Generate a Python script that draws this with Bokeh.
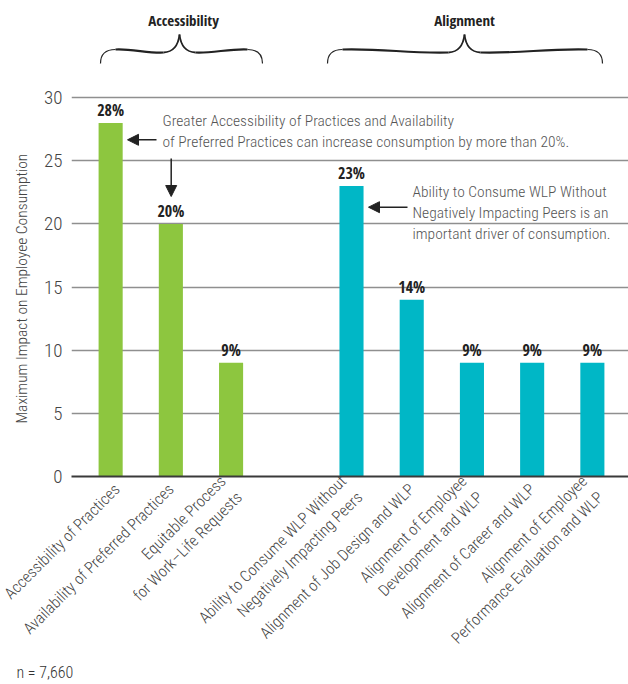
import math
from bokeh.plotting import figure
from bokeh.models import Range1d, FixedTicker, Arrow, NormalHead, Title, ColumnDataSource
from bokeh.core.properties import value
from bokeh.embed import file_html
from bokeh.resources import INLINE

# ---------------- data ----------------
categories = [
    "Accessibility of Practices",
    "Availability of Preferred Practices",
    "Equitable Process\nfor Work\u2013Life Requests",
    "Ability to Consume WLP Without\nNegatively Impacting Peers",
    "Alignment of Job Design and WLP",
    "Alignment of Employee\nDevelopment and WLP",
    "Alignment of Career and WLP",
    "Alignment of Employee\nPerformance Evaluation and WLP",
]
groups = ["Accessibility", "Accessibility", "Accessibility",
          "Alignment", "Alignment", "Alignment", "Alignment", "Alignment"]
values = [28, 20, 9, 23, 14, 9, 9, 9]
value_labels = ["28%", "20%", "9%", "23%", "14%", "9%", "9%", "9%"]
y_ticks = [0, 5, 10, 15, 20, 25, 30]
y_title = "Maximum Impact on Employee Consumption"
group_names = ["Accessibility", "Alignment"]
note_1 = ["Greater Accessibility of Practices and Availability",
          "of Preferred Practices can increase consumption by more than 20%."]
note_2 = ["Ability to Consume WLP Without",
          "Negatively Impacting Peers is an",
          "important driver of consumption."]
sample_note = "n = 7,660"

# ---------------- style ----------------
FONT = "'Roboto Condensed Light', 'Roboto Condensed', sans-serif"
BFONT = "'Open Sans Condensed', 'Roboto Condensed', sans-serif"
GREEN = "#8DC63F"
TEAL = "#00B7C6"
group_colors = {"Accessibility": GREEN, "Alignment": TEAL}

# slot positions: a one-slot gap between the two groups
positions = []
for i, g in enumerate(groups):
    positions.append(i + (1 if g == "Alignment" else 0))
colors = [group_colors[g] for g in groups]

src = ColumnDataSource(dict(x=positions, top=values, lab=value_labels, color=colors))

W, H = 628, 684
FL, FB, FT = 71, 208, 0
XR = (-0.65, 8.6)
YR = (0, 37.7)

p = figure(width=W, height=H, x_range=Range1d(*XR), y_range=Range1d(*YR),
           output_backend="svg", toolbar_location=None,
           min_border_left=FL, min_border_right=0, min_border_top=FT,
           min_border_bottom=FB)
p.outline_line_color = None
p.background_fill_color = "white"
p.border_fill_color = "white"

# helpers for placing decorations by pixel (annotation layout only)
fw = W - FL
fh = H - FB - FT
def px(xp):
    return XR[0] + (xp - FL) / fw * (XR[1] - XR[0])
def py(yp):
    return YR[0] + (FT + fh - yp) / fh * (YR[1] - YR[0])

# grid / axes
p.xgrid.visible = False
p.ygrid.ticker = FixedTicker(ticks=y_ticks)
p.ygrid.grid_line_color = "#8f8f8f"
p.ygrid.grid_line_width = 1.5

p.yaxis.ticker = FixedTicker(ticks=y_ticks)
p.yaxis.axis_line_color = None
p.yaxis.major_tick_line_color = None
p.yaxis.minor_tick_line_color = None
p.yaxis.major_label_text_font = FONT
p.yaxis.major_label_text_font_size = "19px"
p.yaxis.major_label_text_color = "#444444"
p.yaxis.major_label_standoff = 3

# y title, placed along the 0-30 band
p.add_layout(Title(text=y_title, align="left", offset=53, standoff=21,
                   text_font=FONT, text_font_size="15.5px", text_font_style="normal",
                   text_color="#444444"), "left")

p.xaxis.ticker = FixedTicker(ticks=positions)
p.xaxis.major_label_overrides = {pos: cat for pos, cat in zip(positions, categories)}
p.xaxis.major_label_orientation = math.pi / 4
p.xaxis.major_tick_line_color = None
p.xaxis.minor_tick_line_color = None
p.xaxis.axis_line_color = "#3a3a3a"
p.xaxis.axis_line_width = 2
p.xaxis.major_label_text_font = FONT
p.xaxis.major_label_text_font_size = "16px"
p.xaxis.major_label_text_color = "#444444"
p.xaxis.major_label_standoff = 4

# bars
p.vbar(x="x", top="top", width=0.4, fill_color="color", line_color=None, source=src)

# value labels
p.text(x="x", y="top", text="lab", source=src, text_align="center",
       text_baseline="bottom", y_offset=-2,
       text_font=value(BFONT), text_font_style="bold",
       text_font_size="16px", text_color="#222222")

# notes
p.text(x=[px(162)] * 2, y=[py(120), py(141.5)], text=note_1,
       text_align="left", text_baseline="middle", text_font=value(FONT),
       text_font_size="15.5px", text_color="#555555")
p.text(x=[px(412)] * 3, y=[py(191.5), py(212.5), py(233)], text=note_2,
       text_align="left", text_baseline="middle", text_font=value(FONT),
       text_font_size="15.5px", text_color="#555555")

def arrow(x0, y0, x1, y1):
    p.add_layout(Arrow(end=NormalHead(size=11, fill_color="#222222", line_color="#222222"),
                       x_start=px(x0), y_start=py(y0), x_end=px(x1), y_end=py(y1),
                       line_color="#222222", line_width=1.5))

arrow(156, 139.3, 127, 139.3)
arrow(170.7, 158, 170.7, 196)
arrow(407, 206.7, 368, 206.7)

# group headers and braces
brace_specs = [(100, 262, 179, 183), (327, 602, 464, 464)]
for name, (x0, x1, xt, xc) in zip(group_names, brace_specs):
    p.text(x=[px(xc)], y=[py(19)], text=[name], text_align="center",
           text_baseline="middle", text_font=value(BFONT), text_font_style="bold",
           text_font_size="15px", text_color="#222222")
    yend, ylvl, ytip = 63, 49, 34
    for side in (1, -1):
        e = x0 if side == 1 else x1
        s = side
        # hook
        p.bezier(x0=[px(e)], y0=[py(yend)], x1=[px(e + s * 15)], y1=[py(ylvl)],
                 cx0=[px(e)], cy0=[py(54)], cx1=[px(e + s * 4)], cy1=[py(ylvl)],
                 line_color="#222222", line_width=1.2)
        # body
        mid = (e + xt) / 2
        p.bezier(x0=[px(e + s * 15)], y0=[py(ylvl)], x1=[px(xt - s * 16)], y1=[py(52)],
                 cx0=[px(mid - s * 10)], cy0=[py(48)], cx1=[px(mid + s * 10)], cy1=[py(53)],
                 line_color="#222222", line_width=2.2)
        # tip
        p.bezier(x0=[px(xt - s * 16)], y0=[py(52)], x1=[px(xt)], y1=[py(ytip)],
                 cx0=[px(xt - s * 5)], cy0=[py(51.5)], cx1=[px(xt - s * 1)], cy1=[py(43)],
                 line_color="#222222", line_width=1.8)

p.add_layout(Title(text=sample_note, align="left", offset=-55, standoff=-9,
                   text_font=FONT, text_font_size="16px", text_font_style="normal",
                   text_color="#333333"), "below")

open("out.html", "w").write(file_html(p, INLINE))
